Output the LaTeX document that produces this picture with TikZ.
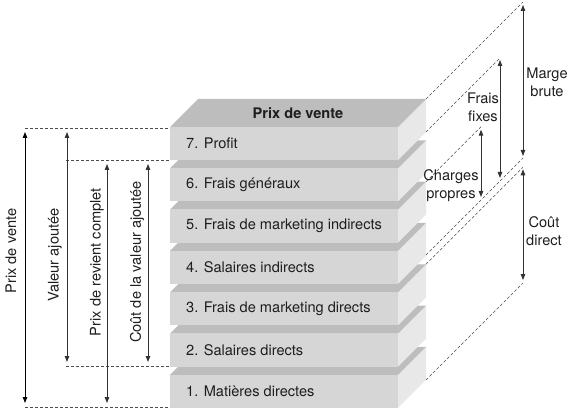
\documentclass[tikz,border=0pt]{standalone}
\usepackage{fontspec}
\setmainfont{TeX Gyre Heros}
\usetikzlibrary{arrows.meta}
\definecolor{frontc}{RGB}{214,214,214}
\definecolor{topc}{RGB}{189,189,189}
\definecolor{sidec}{RGB}{232,232,232}
\definecolor{txt}{RGB}{30,30,30}
\begin{document}
\begin{tikzpicture}[x=1pt,y=-1pt,
  font=\fontsize{14.6}{18}\selectfont,
  guide/.style={densely dashed, black!70, line width=0.6pt},
  dimarrow/.style={{Triangle[length=6pt,width=4.5pt]}-{Triangle[length=6pt,width=4.5pt]}, line width=0.9pt, black!80},
  lbl/.style={text=txt, align=center, inner sep=0pt},
  slabtext/.style={anchor=west, inner sep=0pt, text=txt}]
\useasboundingbox (0,0) rectangle (570,414);

% slabs, bottom to top
\foreach \k/\t in {1/{1. Matières directes},2/{2. Salaires directs},3/{3. Frais de marketing directs},4/{4. Salaires indirects},5/{5. Frais de marketing indirects},6/{6. Frais généraux},7/{7. Profit}}{
  \pgfmathsetmacro\yt{127+(7-\k)*41.33}
  \pgfmathsetmacro\yb{\yt+33}
  \fill[sidec] (398,\yt) -- (426,\yt-28) -- (426,\yb-28) -- (398,\yb) -- cycle;
  \fill[topc] (170,\yt) -- (198,\yt-28) -- (426,\yt-28) -- (398,\yt) -- cycle;
  \fill[frontc] (170,\yt) rectangle (398,\yb);
  \node[slabtext] (s\k) at (186,\yt+16.5) {\t};
}
\node[lbl, font=\fontsize{14.6}{18}\selectfont\bfseries] (top) at (298,113) {Prix de vente};

% left guides
\coordinate (a1) at (25,128);  \coordinate (a1r) at (170,128);
\coordinate (a2) at (66,160);  \coordinate (a2r) at (170,160);
\coordinate (a3) at (66,366);  \coordinate (a3r) at (170,366);
\coordinate (a4) at (25,407);  \coordinate (a4r) at (170,407);
\draw[guide] (a1) -- (a1r);
\draw[guide] (a2) -- (a2r);
\draw[guide] (a3) -- (a3r);
\draw[guide] (a4) -- (a4r);

% left arrows
\coordinate (pvt) at (25,128);  \coordinate (pvb) at (25,407);
\coordinate (vat) at (67,128);  \coordinate (vab) at (67,366);
\coordinate (prt) at (107,160); \coordinate (prb) at (107,407);
\coordinate (cvt) at (148,160); \coordinate (cvb) at (148,366);
\draw[dimarrow, black, shorten <=4pt, shorten >=4pt] (pvt) -- (pvb);
\draw[dimarrow, shorten <=4pt, shorten >=4pt] (vat) -- (vab);
\draw[dimarrow, shorten <=4pt, shorten >=4pt] (prt) -- (prb);
\draw[dimarrow, shorten <=4pt, shorten >=4pt] (cvt) -- (cvb);
\node[lbl, rotate=90] (lpv) at (11,251) {Prix de vente};
\node[lbl, rotate=90] (lva) at (55,255) {Valeur ajoutée};
\node[lbl, rotate=90] (lpr) at (97,262) {Prix de revient complet};
\node[lbl, rotate=90] (lcv) at (137,262) {Coût de la valeur ajoutée};

% right guides
\coordinate (c7t) at (426,99);
\coordinate (c7b) at (426,132);
\coordinate (c5t) at (426,181.7);
\coordinate (c4b) at (426,255);
\coordinate (c3t) at (426,264.3);
\coordinate (c1b) at (426,380);
\coordinate (mbt) at (523,2);
\coordinate (mbb) at (523,158);
\coordinate (fft) at (500,58);
\coordinate (ffb) at (500,181);
\coordinate (cpt) at (481,126.7);
\coordinate (cpb) at (481,200);
\coordinate (cdt) at (523,167.3);
\coordinate (cdb) at (523,283);
\draw[guide] (c7t) -- (mbt);
\draw[guide] (c7b) -- (fft);
\draw[guide] (c5t) -- (cpt);
\draw[guide] (c4b) -- (mbb);
\draw[guide] (c3t) -- (cdt);
\draw[guide] (c1b) -- (cdb);

% right arrows
\draw[dimarrow, shorten <=3pt, shorten >=2pt] (mbt) -- (mbb);
\draw[dimarrow, shorten <=2pt, shorten >=3pt] (fft) -- (ffb);
\draw[dimarrow, shorten <=3pt, shorten >=3pt] (cpt) -- (cpb);
\draw[dimarrow, shorten <=2pt, shorten >=3pt] (cdt) -- (cdb);
\node[lbl] (lmb) at (547,82) {Marge\\brute};
\node[lbl] (lff) at (483,107) {Frais\\fixes};
\node[lbl] (lcp) at (451,186) {Charges\\propres};
\node[lbl] (lcd) at (544,231) {Coût\\direct};
\end{tikzpicture}
\end{document}
